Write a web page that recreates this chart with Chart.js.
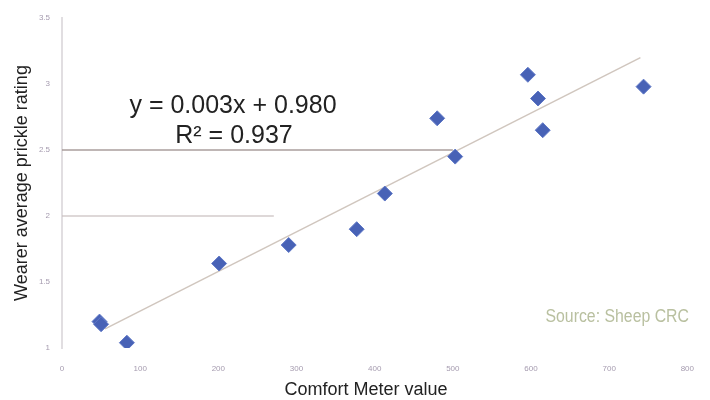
<!DOCTYPE html>
<html>
<head>
<meta charset="utf-8">
<script src="https://cdn.jsdelivr.net/npm/chart.js@4/dist/chart.umd.min.js"></script>
<style>
  html, body { margin: 0; padding: 0; background: #ffffff; }
  #wrap { width: 710px; height: 400px; }
</style>
</head>
<body>
<div id="wrap"><canvas id="chart" width="710" height="400"></canvas></div>
<script>
// Comfort Meter readings and the matching wearer prickle ratings
const comfortMeter = [48, 50, 83, 201, 290, 377, 413, 480, 503, 596, 609, 615, 744];
const prickleRating = [1.20, 1.18, 1.04, 1.64, 1.78, 1.90, 2.17, 2.74, 2.45, 3.07, 2.89, 2.65, 2.98];

// Linear fit as printed on the chart
const fitSlope = 0.003;
const fitIntercept = 0.980;
const fitRSquared = 0.937;
const fitRange = [55, 740];

// Short horizontal reference rules
const guideLevels = [2.5, 2.0];
const guideEnds = [500, 271];

// Axis ticks
const xTicks = [0, 100, 200, 300, 400, 500, 600, 700, 800];
const yTicks = [1, 1.5, 2, 2.5, 3, 3.5];

const points = comfortMeter.map((x, i) => ({ x: x, y: prickleRating[i] }));
const fitLine = fitRange.map(x => ({ x: x, y: fitSlope * x + fitIntercept }));
const guideSets = guideLevels.map((lv, i) => ({
  type: 'line',
  data: [{ x: 0, y: lv }, { x: guideEnds[i], y: lv }],
  borderColor: i === 0 ? 'rgba(160,148,145,0.9)' : 'rgba(200,190,190,0.8)',
  borderWidth: 1.5,
  pointRadius: 0,
  order: 3
}));

const textPlugin = {
  id: 'chartText',
  afterDraw(chart) {
    const ctx = chart.ctx;
    ctx.save();
    ctx.fillStyle = '#222222';
    ctx.textAlign = 'center';
    ctx.textBaseline = 'alphabetic';
    ctx.font = '25px "Liberation Sans", Arial, sans-serif';
    ctx.fillText('y = ' + fitSlope.toFixed(3) + 'x + ' + fitIntercept.toFixed(3), 233, 113);
    ctx.fillText('R\u00B2 = ' + fitRSquared.toFixed(3), 234, 143);

    ctx.font = '18px "Liberation Sans", Arial, sans-serif';
    ctx.fillText('Comfort Meter value', 366, 395);

    ctx.save();
    ctx.translate(27, 183);
    ctx.rotate(-Math.PI / 2);
    ctx.fillText('Wearer average prickle rating', 0, 0);
    ctx.restore();

    // condensed credit line
    ctx.save();
    ctx.translate(689, 322);
    ctx.scale(0.88, 1);
    ctx.textAlign = 'right';
    ctx.fillStyle = 'rgb(185,192,160)';
    ctx.font = '18px "Liberation Sans", Arial, sans-serif';
    ctx.fillText('Source: Sheep CRC', 0, 0);
    ctx.restore();
    ctx.restore();
  }
};

new Chart(document.getElementById('chart'), {
  type: 'scatter',
  data: {
    datasets: [
      {
        type: 'scatter',
        data: points,
        pointStyle: 'rectRot',
        pointRadius: 7.5,
        pointHoverRadius: 7.5,
        backgroundColor: 'rgb(72,98,182)',
        borderColor: 'rgb(95,120,198)',
        borderWidth: 1,
        order: 1
      },
      {
        type: 'line',
        data: fitLine,
        borderColor: 'rgb(208,198,190)',
        borderWidth: 1.5,
        pointRadius: 0,
        order: 2
      },
      ...guideSets
    ]
  },
  options: {
    responsive: false,
    animation: false,
    devicePixelRatio: 1,
    layout: { padding: { left: 0, top: 18, right: 20, bottom: 0 } },
    plugins: {
      legend: { display: false },
      tooltip: { enabled: false }
    },
    scales: {
      x: {
        type: 'linear',
        min: xTicks[0],
        max: xTicks[xTicks.length - 1],
        afterFit(scale) { scale.height = 52; },
        afterBuildTicks(scale) { scale.ticks = xTicks.map(v => ({ value: v })); },
        grid: { display: false, drawTicks: false },
        border: { display: false },
        ticks: {
          padding: 16,
          maxRotation: 0,
          color: 'rgb(165,155,175)',
          font: { size: 8, family: 'Liberation Sans' },
          callback: v => String(v)
        }
      },
      y: {
        type: 'linear',
        min: yTicks[0],
        max: yTicks[yTicks.length - 1],
        afterFit(scale) { scale.width = 62; },
        afterBuildTicks(scale) { scale.ticks = yTicks.map(v => ({ value: v })); },
        grid: { display: false, drawTicks: false },
        border: { display: true, color: 'rgb(225,222,225)', width: 2 },
        ticks: {
          padding: 12,
          color: 'rgb(165,155,175)',
          font: { size: 8, family: 'Liberation Sans' },
          callback: v => String(v)
        }
      }
    }
  },
  plugins: [textPlugin]
});
</script>
</body>
</html>
